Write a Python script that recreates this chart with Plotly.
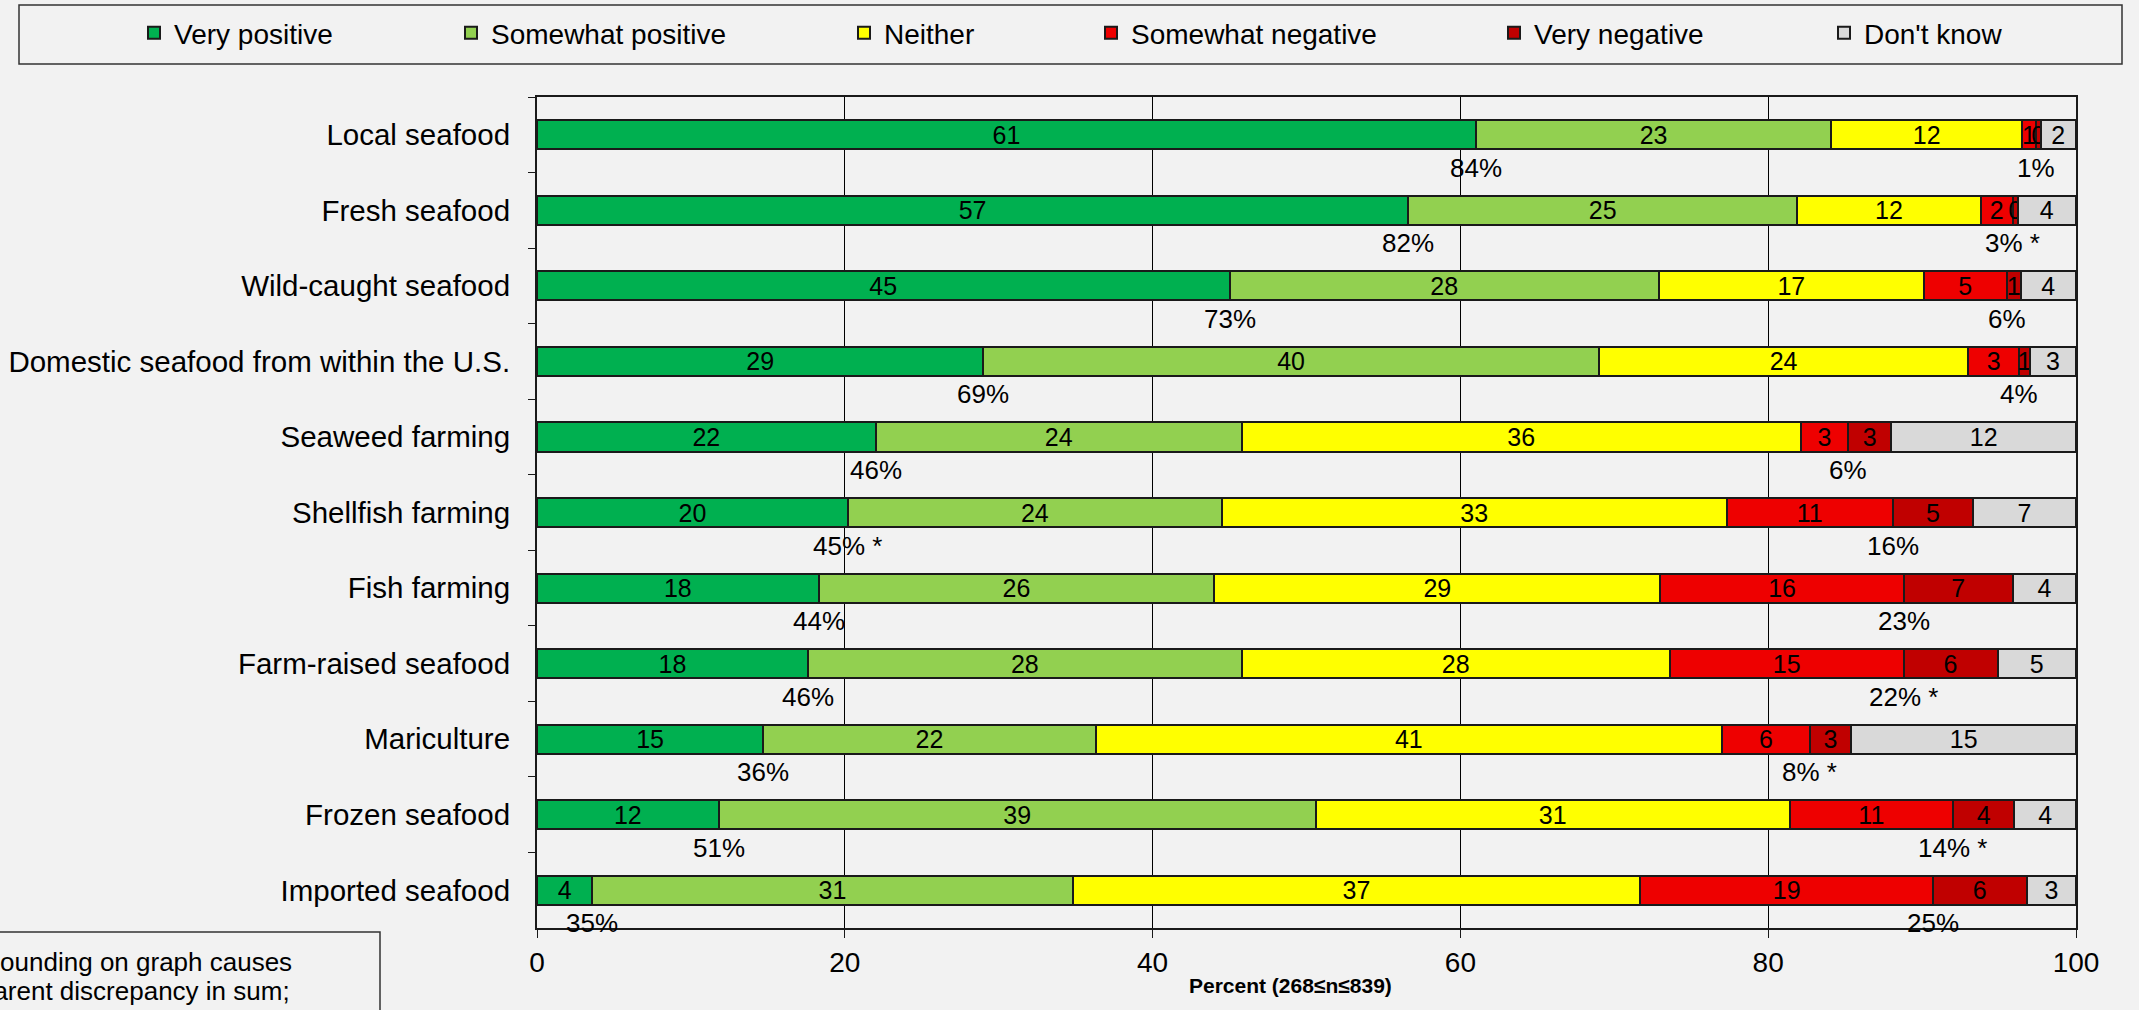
import plotly.graph_objects as go

categories = ["Local seafood", "Fresh seafood", "Wild-caught seafood",
              "Domestic seafood from within the U.S.", "Seaweed farming",
              "Shellfish farming", "Fish farming", "Farm-raised seafood",
              "Mariculture", "Frozen seafood", "Imported seafood"]

very_positive     = [61.0, 56.6, 45.0, 29.0, 22.0, 20.2, 18.3, 17.6, 14.7, 11.8, 3.6]
somewhat_positive = [23.1, 25.3, 27.9, 40.0, 23.8, 24.3, 25.7, 28.2, 21.6, 38.8, 31.2]
neither           = [12.4, 11.9, 17.2, 24.0, 36.3, 32.8, 29.0, 27.8, 40.7, 30.8, 36.9]
somewhat_negative = [0.9, 2.1, 5.4, 3.3, 3.1, 10.8, 15.8, 15.2, 5.7, 10.6, 19.0]
very_negative     = [0.3, 0.3, 0.9, 0.7, 2.8, 5.2, 7.1, 6.1, 2.7, 4.0, 6.1]
dont_know         = [2.3, 3.8, 3.6, 3.0, 12.0, 6.7, 4.1, 5.1, 14.6, 4.0, 3.2]

positive_labels = ["84%", "82%", "73%", "69%", "46%", "45% *", "44%", "46%", "36%", "51%", "35%"]
negative_labels = ["1%", "3% *", "6%", "4%", "6%", "16%", "23%", "22% *", "8% *", "14% *", "25%"]

series_names = ["Very positive", "Somewhat positive", "Neither",
                "Somewhat negative", "Very negative", "Don't know"]
series_values = [very_positive, somewhat_positive, neither,
                 somewhat_negative, very_negative, dont_know]
colors = ["#00b050", "#92d050", "#ffff00", "#ee0000", "#c00000", "#d9d9d9"]

note_lines = ["* Rounding on graph causes", "apparent discrepancy in sum;"]

FONT = "Liberation Sans, Arial, sans-serif"
W, H = 2139, 1010
ML, MR, MT, MB = 537, 63, 97, 82
PW, PH = W - ML - MR, H - MT - MB

def px_x(px):
    return (px - ML) / PW

def px_y(py):
    return 1 - (py - MT) / PH

fig = go.Figure()
legend_text_x = [174, 491, 884, 1131, 1534, 1864]
for i, (name, vals, col) in enumerate(zip(series_names, series_values, colors)):
    lname = "legend" if i == 0 else f"legend{i+1}"
    fig.add_trace(go.Bar(
        y=categories, x=vals, name=name, orientation="h",
        marker=dict(color=col, line=dict(color="#1a1a1a", width=2)),
        width=0.385,
        texttemplate="%{x:.0f}", textposition="inside", insidetextanchor="middle",
        textangle=0, constraintext="none",
        textfont=dict(family=FONT, size=25, color="black"),
        legend=lname, showlegend=True, hoverinfo="skip",
    ))
    fig.update_layout({lname: dict(
        x=(legend_text_x[i] - 40) / W, xref="container", xanchor="left",
        y=1 - 33 / H, yref="container", yanchor="middle",
        bgcolor="rgba(0,0,0,0)", borderwidth=0,
        font=dict(family=FONT, size=28, color="black"),
        orientation="h",
    )})

annotations = []
for i, cat in enumerate(categories):
    pos_x = very_positive[i]
    neg_x = (very_positive[i] + somewhat_positive[i] + neither[i]
             + somewhat_negative[i])
    for xv, txt in ((pos_x, positive_labels[i]), (neg_x, negative_labels[i])):
        annotations.append(dict(
            x=xv, y=cat, xref="x", yref="y", text=txt, showarrow=False,
            xanchor="center", yanchor="middle", yshift=-33,
            font=dict(family=FONT, size=26, color="black"),
        ))

annotations.append(dict(
    x=px_x(1290), y=px_y(985), xref="paper", yref="paper",
    text="<b>Percent (268≤n≤839)</b>", showarrow=False,
    xanchor="center", yanchor="middle",
    font=dict(family=FONT, size=21, color="black"),
))
for txt, yy, xx in ((note_lines[0], 962, -38), (note_lines[1], 991, -52)):
    annotations.append(dict(
        x=px_x(xx), y=px_y(yy), xref="paper", yref="paper", text=txt,
        showarrow=False, xanchor="left", yanchor="middle", align="left",
        font=dict(family=FONT, size=26, color="black"),
    ))

shapes = [
    dict(type="rect", xref="paper", yref="paper",
         x0=px_x(19), x1=px_x(2122), y0=px_y(5), y1=px_y(64),
         line=dict(color="#333333", width=1.5), fillcolor="rgba(0,0,0,0)"),
    dict(type="rect", xref="paper", yref="paper",
         x0=px_x(-20), x1=px_x(380), y0=px_y(932), y1=px_y(1030),
         line=dict(color="#333333", width=1.5), fillcolor="rgba(0,0,0,0)"),
]

fig.update_layout(
    barmode="stack",
    showlegend=True,
    width=W, height=H,
    margin=dict(l=ML, r=MR, t=MT, b=MB, autoexpand=False),
    paper_bgcolor="#f2f2f2", plot_bgcolor="#f2f2f2",
    font=dict(family=FONT, color="black"),
    uniformtext=dict(minsize=25, mode="show"),
    annotations=annotations, shapes=shapes,
    xaxis=dict(range=[0, 100], tickvals=[0, 20, 40, 60, 80, 100],
               showgrid=True, gridcolor="black", gridwidth=1,
               showline=True, linecolor="#1a1a1a", linewidth=2, mirror=True,
               ticks="outside", ticklen=8, tickcolor="#1a1a1a",
               tickfont=dict(family=FONT, size=28, color="black"),
               zeroline=False, fixedrange=True),
    yaxis=dict(categoryorder="array", categoryarray=categories,
               range=[10.5, -0.5], showgrid=False,
               showline=True, linecolor="#1a1a1a", linewidth=2, mirror=True,
               ticks="outside", ticklen=7, tickson="boundaries", tickcolor="#1a1a1a",
               ticklabelstandoff=19,
               tickfont=dict(family=FONT, size=29.5, color="black"),
               fixedrange=True),
)

fig.write_html(
    "out.html",
    config={"displayModeBar": False},
    post_script="document.body.style.margin='0';document.body.style.background='#f2f2f2';",
)
